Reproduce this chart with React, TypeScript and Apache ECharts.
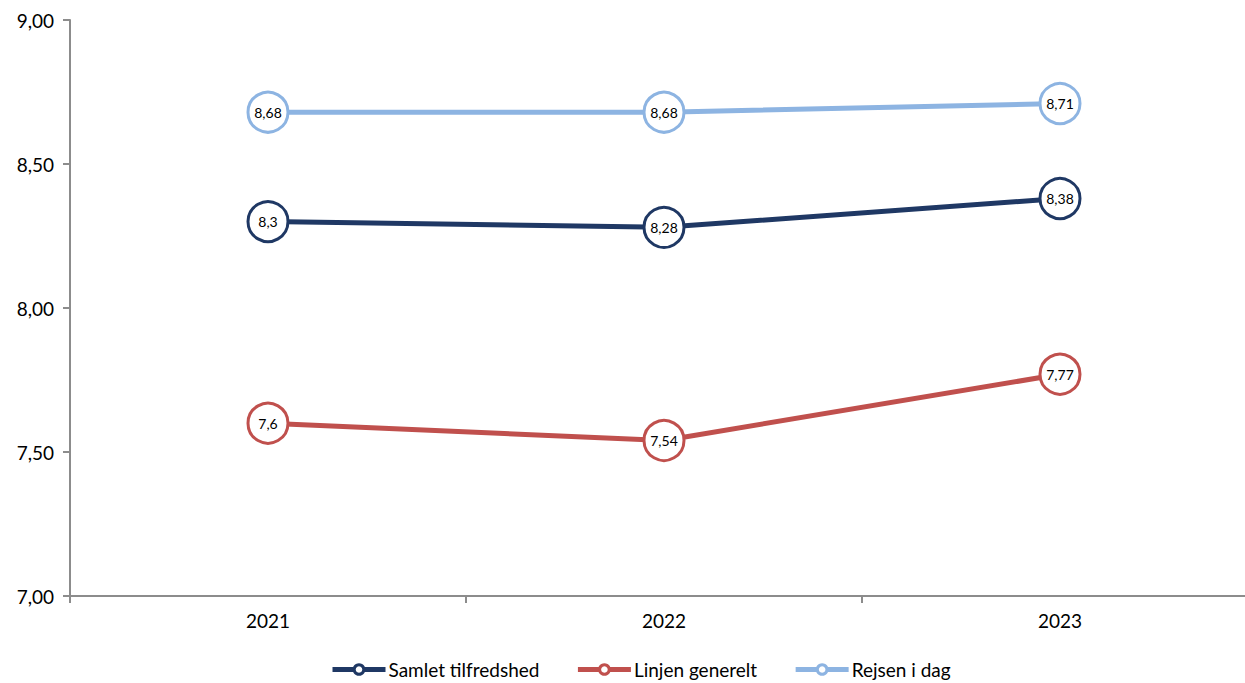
import React, { useEffect, useRef } from "react";
import * as echarts from "echarts";

const categories = ["2021", "2022", "2023"];
const samlet = [8.3, 8.28, 8.38];
const linjen = [7.6, 7.54, 7.77];
const rejsen = [8.68, 8.68, 8.71];
const seriesNames = ["Samlet tilfredshed", "Linjen generelt", "Rejsen i dag"];
const colors = ["#1F3864", "#C0504D", "#8DB4E2"];

const FONT = "Lato, 'Open Sans', sans-serif";

function fmt(v: number) {
  return String(v).replace(".", ",");
}

export default function App() {
  const ref = useRef<HTMLDivElement>(null);
  useEffect(() => {
    if (!ref.current) return;
    const chart = echarts.init(ref.current, undefined, { renderer: "svg" });
    const mk = (name: string, data: number[], color: string) => ({
      name,
      type: "line",
      data,
      symbol: "circle",
      symbolSize: 40,
      lineStyle: { color, width: 5 },
      itemStyle: { color: "#ffffff", borderColor: color, borderWidth: 3 },
      label: {
        show: true,
        position: "inside",
        color: "#000",
        fontFamily: FONT,
        fontSize: 14,
        formatter: (p: any) => fmt(p.value),
      },
      emphasis: { disabled: true },
    });
    chart.setOption({
      animation: false,
      color: colors,
      grid: { left: 70, top: 20, bottom: 87, right: 0, containLabel: false },
      legend: {
        top: 655,
        left: 325,
        itemWidth: 53,
        itemHeight: 12,
        itemGap: 36,
        lineStyle: { width: 5 },
        itemStyle: { borderWidth: 3 },
        textStyle: { fontFamily: FONT, fontSize: 19, color: "#000", padding: [0, 0, 0, -2] },
        data: seriesNames,
      },
      xAxis: {
        type: "category",
        data: categories,
        boundaryGap: true,
        axisLine: { lineStyle: { color: "#8c8c8c", width: 2 } },
        axisTick: { show: true, length: 7, lineStyle: { color: "#8c8c8c", width: 2 } },
        axisLabel: { fontFamily: FONT, fontSize: 19, color: "#000", margin: 15 },
        splitLine: { show: false },
      },
      yAxis: {
        type: "value",
        min: 7,
        max: 9,
        interval: 0.5,
        axisLine: { show: true, lineStyle: { color: "#8c8c8c", width: 2 } },
        axisTick: { show: true, length: 7, lineStyle: { color: "#8c8c8c", width: 2 } },
        axisLabel: {
          fontFamily: FONT,
          fontSize: 19,
          color: "#000",
          margin: 16,
          formatter: (v: number) => v.toFixed(2).replace(".", ","),
        },
        splitLine: { show: false },
      },
      series: [
        mk(seriesNames[0], samlet, colors[0]),
        mk(seriesNames[1], linjen, colors[1]),
        mk(seriesNames[2], rejsen, colors[2]),
      ],
    });
    return () => chart.dispose();
  }, []);
  return (
    <div
      ref={ref}
      style={{ position: "fixed", left: 0, top: 0, width: 1258, height: 683, background: "#fff" }}
    />
  );
}
